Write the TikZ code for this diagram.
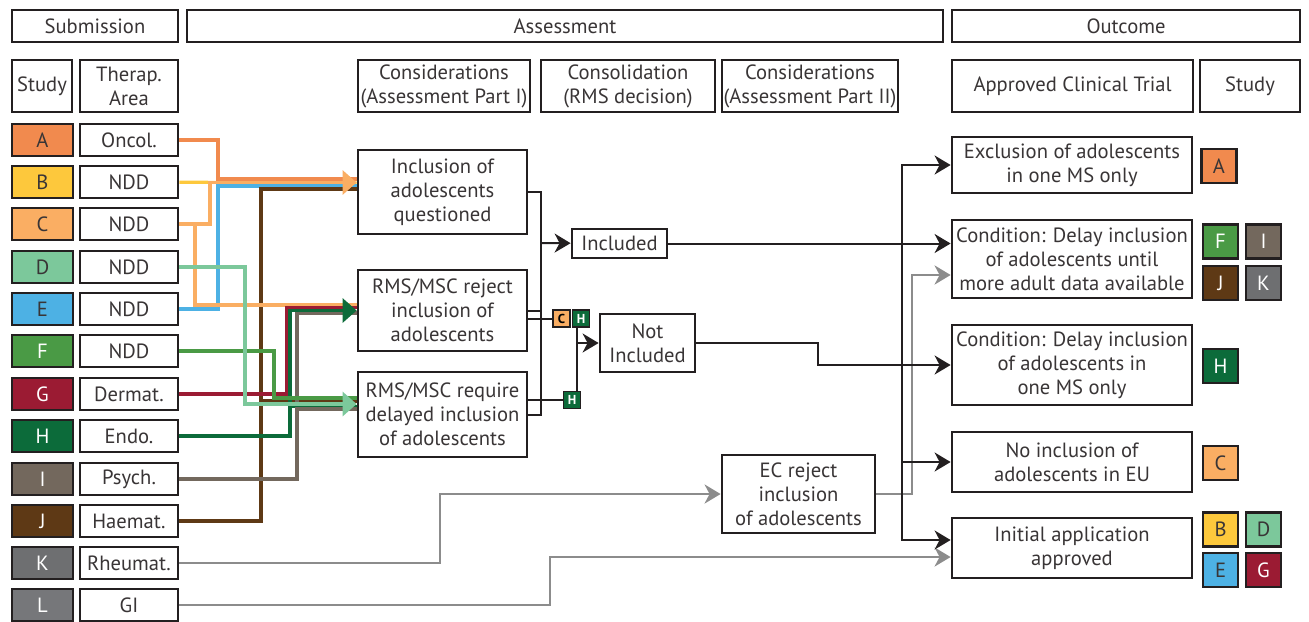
\documentclass[tikz,border=0pt]{standalone}
\usepackage{fontspec}
\setmainfont{PT Sans}
\usetikzlibrary{arrows.meta}

\definecolor{cA}{HTML}{F18A4E}
\definecolor{cB}{HTML}{FDC83C}
\definecolor{cC}{HTML}{FAAE63}
\definecolor{cD}{HTML}{7CC89B}
\definecolor{cE}{HTML}{4DB1E4}
\definecolor{cF}{HTML}{4A9A45}
\definecolor{cG}{HTML}{9B1B33}
\definecolor{cH}{HTML}{0C6B3A}
\definecolor{cI}{HTML}{73685D}
\definecolor{cJ}{HTML}{5E3915}
\definecolor{cK}{HTML}{6E6F71}
\definecolor{cL}{HTML}{76777A}
\definecolor{ink}{HTML}{231F20}

\begin{document}
\begin{tikzpicture}[x=0.5pt,y=-0.5pt,font=\fontsize{10.3}{12}\selectfont,
  box/.style={draw=ink,line width=1.4pt,fill=white,inner sep=0pt,align=center,text=ink!90},
  letbox/.style={box,fill=#1,minimum width=30.5pt,minimum height=16pt},
  areabox/.style={box,minimum width=49pt,minimum height=16pt},
  outtag/.style={box,fill=#1,minimum width=17.5pt,minimum height=17pt},
  minitag/.style={draw=ink,line width=0.8pt,fill=#1,inner sep=0pt,minimum size=8.5pt,font=\fontsize{6.5}{7}\selectfont\bfseries},
  ln/.style={draw=#1,line width=1.6pt},
  carr/.style={-{Triangle[length=7pt,width=12pt]}},
  conn/.style={draw=ink,line width=1pt},
  arr/.style={conn,-{Stealth[length=8pt,width=9.5pt,inset=2.5pt]}},
  garr/.style={draw=black!45,line width=1.4pt,-{Stealth[length=8pt,width=9.5pt,inset=2.5pt]}}]
\useasboundingbox (0,0) rectangle (1309,621);

\node [box,minimum width=83pt,minimum height=16pt] (hsub) at (95,26) {Submission};
\node [box,minimum width=378pt,minimum height=16pt] (hass) at (565,26) {Assessment};
\node [box,minimum width=174pt,minimum height=16pt] (hout) at (1126,26) {Outcome};

\node [box,minimum width=30pt,minimum height=26pt] (hstudy) at (42,86) {Study};
\node [box,minimum width=49pt,minimum height=26pt] (harea) at (129,86) {Therap.\\Area};
\node [box,minimum width=86pt,minimum height=26pt] (hconA) at (444,86) {Considerations\\(Assessment Part I)};
\node [box,minimum width=87pt,minimum height=26pt] (hcons) at (628,86) {Consolidation\\(RMS decision)};
\node [box,minimum width=88pt,minimum height=26pt] (hconB) at (810,86) {Considerations\\(Assessment Part II)};
\node [box,minimum width=120.5pt,minimum height=26pt] (hact) at (1072.5,86) {Approved Clinical Trial};
\node [box,minimum width=50pt,minimum height=26pt] (hstudyB) at (1250,86) {Study};

\node [letbox=cA] (sA) at (42.5,140) {A};
\node [letbox=cB] (sB) at (42.5,182) {B};
\node [letbox=cC] (sC) at (42.5,224) {C};
\node [letbox=cD] (sD) at (42.5,267) {D};
\node [letbox=cE] (sE) at (42.5,309) {E};
\node [letbox=cF,text=white] (sF) at (42.5,351) {F};
\node [letbox=cG,text=white] (sG) at (42.5,394) {G};
\node [letbox=cH,text=white] (sH) at (42.5,436) {H};
\node [letbox=cI,text=white] (sI) at (42.5,479) {I};
\node [letbox=cJ,text=white] (sJ) at (42.5,521) {J};
\node [letbox=cK,text=white] (sK) at (42.5,563) {K};
\node [letbox=cL,text=white] (sL) at (42.5,605) {L};

\node [areabox] (aA) at (129,140) {Oncol.};
\node [areabox] (aB) at (129,182) {NDD};
\node [areabox] (aC) at (129,224) {NDD};
\node [areabox] (aD) at (129,267) {NDD};
\node [areabox] (aE) at (129,309) {NDD};
\node [areabox] (aF) at (129,351) {NDD};
\node [areabox] (aG) at (129,394) {Dermat.};
\node [areabox] (aH) at (129,436) {Endo.};
\node [areabox] (aI) at (129,479) {Psych.};
\node [areabox] (aJ) at (129,521) {Haemat.};
\node [areabox] (aK) at (129,563) {Rheumat.};
\node [areabox] (aL) at (129,605) {GI};

\node [box,minimum width=84.5pt,minimum height=42pt] (q) at (442.5,192) {Inclusion of\\adolescents\\questioned};
\node [box,minimum width=84.5pt,minimum height=40.5pt] (rej) at (442.5,310.5) {RMS/MSC reject\\inclusion of\\adolescents};
\node [box,minimum width=84.5pt,minimum height=42.5pt] (del) at (442.5,414.5) {RMS/MSC require\\delayed inclusion\\of adolescents};
\node [box,minimum width=47.5pt,minimum height=14.5pt] (inc) at (619.5,243.5) {Included};
\node [box,minimum width=47.5pt,minimum height=29pt] (notinc) at (647.5,343) {Not\\Included};
\node [box,minimum width=76.5pt,minimum height=39pt] (ec) at (798.5,494) {EC reject\\inclusion\\of adolescents};

\node [minitag=cC] (tC) at (561.5,318.5) {C};
\node [minitag=cH,text=white] (tHa) at (581,318.5) {H};
\node [minitag=cH,text=white] (tHb) at (572,400) {H};

\node [box,minimum width=120pt,minimum height=28pt] (oa) at (1072,165) {Exclusion of adolescents\\in one MS only};
\node [box,minimum width=120pt,minimum height=39pt] (ob) at (1072,259) {Condition: Delay inclusion\\of adolescents until\\more adult data available};
\node [box,minimum width=120pt,minimum height=40pt] (oc) at (1072,365) {Condition: Delay inclusion\\of adolescents in\\one MS only};
\node [box,minimum width=120pt,minimum height=30pt] (od) at (1072,462) {No inclusion of\\adolescents in EU};
\node [box,minimum width=120pt,minimum height=30pt] (oe) at (1072,548) {Initial application\\approved};

\node [outtag=cA] (rA) at (1219,166) {A};
\node [outtag=cF,text=white] (rF) at (1220.5,241.5) {F};
\node [outtag=cI,text=white] (rI) at (1263.5,241.5) {I};
\node [outtag=cJ,text=white] (rJ) at (1220.5,283) {J};
\node [outtag=cK,text=white] (rK) at (1263.5,283) {K};
\node [outtag=cH,text=white] (rH) at (1220.5,366) {H};
\node [outtag=cC] (rC) at (1220.5,463) {C};
\node [outtag=cB] (rB) at (1220.5,529.5) {B};
\node [outtag=cD] (rD) at (1263.5,529.5) {D};
\node [outtag=cE] (rE) at (1220.5,570) {E};
\node [outtag=cG,text=white] (rG) at (1263.5,570) {G};

\draw [ln=cB] (aB) -- ([yshift=4.5pt]q.west);
\draw [ln=cA] (aA) -| (218,160) |- ([yshift=6.5pt]q.west);
\draw [ln=cE] (aE) -| (218,250) |- ([yshift=3pt]q.west);
\draw [ln=cJ] (aJ) -| (261,350) |- ([yshift=1.5pt]q.west);
\draw [ln=cJ] (aJ) -| (261,450) |- ([yshift=6.75pt]del.west);
\draw [ln=cC] (aC) -| (195,260) |- ([yshift=2.75pt]rej.west);
\draw [ln=cC,carr] (aC) -| (210,200) |- ([yshift=4.75pt]q.west);

\draw [ln=cG] (aG) -| (287,350) |- ([yshift=1.5pt]rej.west);
\draw [ln=cI] (aI) -| (297,400) |- ([yshift=-1.25pt]rej.west);
\draw [ln=cH,carr] (aH) -| (290,380) |- (rej.west);

\draw [ln=cF] (aF) -| (274,380) |- ([yshift=8.25pt]del.west);
\draw [ln=cH] (aH) -| (290,420) |- ([yshift=4pt]del.west);
\draw [ln=cI] (aI) -| (297,440) |- ([yshift=2.75pt]del.west);
\draw [ln=cD,carr] (aD) -| (245,350) |- ([yshift=5.25pt]del.west);

\draw [garr] (aK) -| (440,530) |- (ec);
\draw [garr] (aL) -| (550,580) |- ([yshift=-4.5pt]oe.west);
\draw [garr] (ec) -| (912,400) |- ([yshift=-8pt]ob.west);

\coordinate (bus) at (541,243);
\draw [conn] (q.east) -| (bus) |- (del.east);
\draw [conn] (rej.east) -- (rej.east -| bus);
\draw [arr] (bus) -- (inc);
\draw [conn] (rej.east |- tC) -- (tC);
\draw [conn] (del.east |- tHb) -- (tHb);
\coordinate (nb) at (577,343);
\draw [conn] (tHa.south -| nb) -- (tHb.north -| nb);
\draw [arr] (nb) -- (notinc);

\draw [arr] (inc) -- (inc -| ob.west);
\draw [arr] (notinc) -| (818,354) |- (oc);
\coordinate (vb) at (902,243);
\draw [arr] (vb) |- (oa);
\draw [arr] (vb) |- (od);
\draw [arr] (vb) |- ([yshift=4pt]oe.west);
\end{tikzpicture}
\end{document}
